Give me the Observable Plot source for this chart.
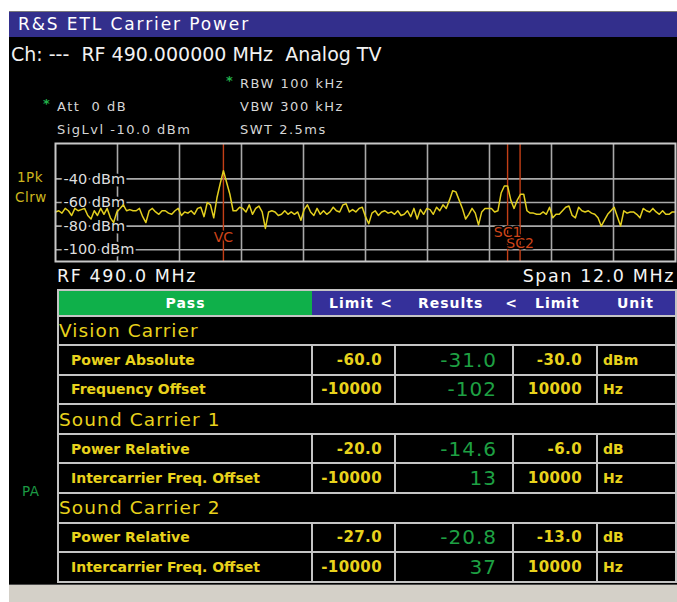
<!DOCTYPE html>
<html><head><meta charset="utf-8">
<script src="https://cdn.jsdelivr.net/npm/d3@7"></script>
<script src="https://cdn.jsdelivr.net/npm/@observablehq/plot@0.6"></script>
<style>
html,body{margin:0;padding:0;background:#fff;width:677px;height:602px;overflow:hidden;font-family:"DejaVu Sans",sans-serif;}
.abs{position:absolute;white-space:pre;}
#screen{position:absolute;left:9px;top:12px;width:668px;height:572px;background:#000;}
#topline{position:absolute;left:9px;top:11px;width:668px;height:1px;background:#7a7a7a;}
#titlebar{position:absolute;left:9px;top:12px;width:668px;height:25px;background:#332f8c;color:#fff;font-size:17px;line-height:25px;letter-spacing:1.9px;}
#titlebar span{position:absolute;left:9px;top:0;}
#bottombar{position:absolute;left:9px;top:584px;width:668px;height:18px;background:#d4d0c8;border-top:1px solid #4a4a4a;}
.info{color:#d6d6d6;font-size:13px;line-height:16px;letter-spacing:1.5px;}
.star{color:#22b04a;font-size:13px;font-weight:bold;line-height:16px;}
.side{font-size:13.5px;line-height:16px;letter-spacing:0.5px;}
#spec{position:absolute;left:0;top:135px;}
#tbl{position:absolute;left:57px;top:289px;border-collapse:collapse;table-layout:fixed;width:618px;}
#tbl td{border:2px solid #c4c4c4;padding:0;vertical-align:middle;white-space:nowrap;overflow:visible;}
#tbl tr.hdr td{height:23.5px;color:#fff;font-weight:bold;font-size:14px;letter-spacing:1px;border-left:none;border-right:none;}
#tbl tr.hdr td.first{border-left:2px solid #c4c4c4;}
#tbl tr.hdr td.last{border-right:2px solid #c4c4c4;}
#tbl tr.sec td{height:27.6px;color:#e8d21c;font-size:18.5px;letter-spacing:1.1px;}
#tbl tr.row td{height:27.6px;}
td.lab{color:#e8d21c;font-weight:bold;font-size:14px;padding-left:12px !important;}
td.lim{color:#e8d21c;font-weight:bold;font-size:15px;letter-spacing:0.4px;text-align:right;padding-right:12px !important;}
td.lim2{color:#e8d21c;font-weight:bold;font-size:15px;letter-spacing:0.4px;text-align:right;padding-right:14px !important;}
td.res{color:#1ea043;font-size:20px;letter-spacing:1px;text-align:right;padding-right:15px !important;}
td.unit{color:#e8d21c;font-weight:bold;font-size:14px;padding-left:5px !important;}
</style>
</head><body>
<div id="screen"></div>
<div id="topline"></div>
<div id="titlebar"><span id="title"></span></div>
<div id="spec"></div>
<table id="tbl"></table>
<div id="bottombar"></div>
<script>
// ---------- data ----------
const titleText = "R&S ETL Carrier Power";
const channelText = "Ch: ---  RF 490.000000 MHz  Analog TV";
const settingsRight = ["RBW 100 kHz", "VBW 300 kHz", "SWT 2.5ms"];
const settingsLeft = ["Att  0 dB", "SigLvl -10.0 dBm"];
const traceInfo = ["1Pk", "Clrw"];
const centerText = "RF 490.0 MHz";
const spanText = "Span 12.0 MHz";
const sideStatus = "PA";

// sweep: 484.0 .. 496.0 MHz (centre 490, span 12), equally spaced sweep points
const startMHz = 484.0;
const stopMHz = 496.0;
const sweepLevels = [
  -68, -67, -69, -65, -67, -71, -65, -67, -66, -65,
  -71, -74, -67, -71, -65, -70, -65, -73, -77, -68,
  -65, -62, -67, -66, -67, -67, -65, -72, -77, -67,
  -65, -68, -70, -67, -67, -69, -70, -67, -65, -71,
  -68, -69, -67, -70, -65, -64, -72, -60, -62, -73,
  -56, -44, -33, -43, -53, -67, -67, -64, -65, -68,
  -62, -70, -65, -63, -68, -82, -68, -67, -68, -71,
  -70, -67, -70, -68, -70, -68, -75, -66, -62, -68,
  -71, -65, -70, -67, -70, -68, -64, -67, -68, -62,
  -61, -68, -66, -68, -65, -64, -72, -78,
  -69, -67, -71, -68, -67, -69, -68, -70, -67, -71,
  -70, -67, -72, -65, -74, -66, -70, -65, -66, -70,
  -64, -67, -62, -65, -58, -50, -51, -58, -65, -74,
  -70, -65, -69, -79, -68, -65, -65, -65, -68, -67,
  -52, -46, -46, -58, -65, -58, -53, -53,
  -67, -69, -69, -70, -70, -68, -70, -64, -73, -70,
  -70, -67, -64, -63, -71, -73, -64, -67, -68, -67,
  -69, -70, -73, -80, -75, -70, -67, -64, -72, -80,
  -67, -69, -68, -68, -70, -73, -65, -67, -68, -65,
  -68, -70, -67, -70, -70, -68, -68
];
const gridFreqs = [485.2, 486.4, 487.6, 488.8, 490.0, 491.2, 492.4, 493.6, 494.8];
const levelTicks = [-40, -60, -80, -100];
const markerNames = ["VC", "SC1", "SC2"];
const markerFreqs = [487.25, 492.75, 492.992];

// table
const headerCells = ["Pass", "Limit", "<", "Results", "<", "Limit", "Unit"];
const sections = ["Vision Carrier", "Sound Carrier 1", "Sound Carrier 2"];
const rowSection = [0, 0, 1, 1, 2, 2];
const rowLabels = ["Power Absolute", "Frequency Offset", "Power Relative", "Intercarrier Freq. Offset", "Power Relative", "Intercarrier Freq. Offset"];
const lowerLimits = ["-60.0", "-10000", "-20.0", "-10000", "-27.0", "-10000"];
const results = ["-31.0", "-102", "-14.6", "13", "-20.8", "37"];
const upperLimits = ["-30.0", "10000", "-6.0", "10000", "-13.0", "10000"];
const units = ["dBm", "Hz", "dB", "Hz", "dB", "Hz"];

// ---------- text layer ----------
function addText(txt, left, centerY, cls, extra) {
  const d = document.createElement("div");
  d.className = "abs " + cls;
  d.textContent = txt;
  d.style.left = left + "px";
  d.style.top = (centerY - 8) + "px";
  if (extra) Object.assign(d.style, extra);
  document.body.appendChild(d);
  return d;
}
document.getElementById("title").textContent = titleText;
addText(channelText, 11, 54, "", {color: "#f2f2f2", fontSize: "19px", lineHeight: "16px"});
settingsRight.forEach((t, i) => addText(t, 240, 84 + i * 23, "info"));
settingsLeft.forEach((t, i) => addText(t, 57, 107 + i * 23, "info"));
addText("*", 226, 81, "star");
addText("*", 43, 104, "star");
traceInfo.forEach((t, i) => addText(t, i === 0 ? 17 : 15, 177 + i * 20, "side", {color: "#cdb61e"}));
addText(sideStatus, 22, 491, "side", {color: "#1c9a44"});
addText(centerText, 57, 276, "", {color: "#f4f4f4", fontSize: "17.5px", lineHeight: "16px", letterSpacing: "1.6px"});
const sp = addText(spanText, 0, 276, "", {color: "#f4f4f4", fontSize: "17.5px", lineHeight: "16px", letterSpacing: "1.6px"});
sp.style.left = "auto"; sp.style.right = (677 - 675) + "px";

// ---------- spectrum ----------
const n = sweepLevels.length;
const sweep = sweepLevels.map((v, i) => ({f: startMHz + i * (stopMHz - startMHz) / (n - 1), v}));
const markers = markerNames.map((name, i) => ({name, f: markerFreqs[i]}));
const mColor = "#cf4519";
const labelDy = {VC: 0, SC1: -5.5, SC2: 5.5};
const plot = Plot.plot({
  width: 677, height: 135,
  marginTop: 8, marginBottom: 9, marginLeft: 55, marginRight: 2,
  x: {domain: [startMHz, stopMHz], axis: null},
  y: {domain: [-110, -10], axis: null},
  style: {background: "transparent", fontFamily: "DejaVu Sans", overflow: "visible"},
  marks: [
    Plot.ruleX(gridFreqs, {x: d => d, stroke: "#a9a9a9", strokeWidth: 1.6}),
    Plot.ruleY(levelTicks, {y: d => d, stroke: "#a9a9a9", strokeWidth: 1.6}),
    Plot.text(levelTicks, {y: d => d, frameAnchor: "left", dx: 8, text: d => `${d} dBm`, textAnchor: "start",
      fill: "#dedede", stroke: "#000", strokeWidth: 5, paintOrder: "stroke", fontSize: 14.5, letterSpacing: 0.3}),
    Plot.ruleX(markers, {x: "f", stroke: "#c43f16", strokeWidth: 1.4}),
    Plot.line(sweep, {x: "f", y: "v", stroke: "#e3cf1f", strokeWidth: 1.5, curve: "linear"}),
    ...["SC2", "VC", "SC1"].map(nm => Plot.text(markers.filter(m => m.name === nm), {
      x: "f", y: () => -90, dy: labelDy[nm], text: "name", fill: mColor, stroke: "#000", strokeWidth: 3,
      paintOrder: "stroke", fontSize: 14})),
    Plot.frame({stroke: "#c8c8c8", strokeWidth: 2})
  ]
});
document.getElementById("spec").appendChild(plot);

// ---------- results table ----------
const tbl = document.getElementById("tbl");
const cg = document.createElement("colgroup");
[254, 83, 118, 84, 79].forEach(w => { const c = document.createElement("col"); c.style.width = w + "px"; cg.appendChild(c); });
tbl.appendChild(cg);
function flexCell(parts, pl, pr) {
  return `<div style="display:flex;justify-content:space-between;padding-left:${pl}px;padding-right:${pr}px">${parts.map((p, i) => `<span${i === parts.length - 1 && pr < 0 ? ` style="margin-right:${pr}px"` : ""}>${p}</span>`).join("")}</div>`;
}
let html = `<tr class="hdr">
<td class="first" style="background:#0fb04a;text-align:center">${headerCells[0]}</td>
<td style="background:#35309a">${flexCell([headerCells[1], headerCells[2]], 17, 2)}</td>
<td style="background:#35309a">${flexCell([headerCells[3], headerCells[4]], 23, -5)}</td>
<td style="background:#35309a;padding-left:22px">${headerCells[5]}</td>
<td class="last" style="background:#35309a;padding-left:20px">${headerCells[6]}</td></tr>`;
sections.forEach((s, si) => {
  html += `<tr class="sec"><td colspan="5">${s}</td></tr>`;
  rowSection.forEach((rs, i) => {
    if (rs !== si) return;
    html += `<tr class="row"><td class="lab">${rowLabels[i]}</td><td class="lim">${lowerLimits[i]}</td><td class="res">${results[i]}</td><td class="lim2">${upperLimits[i]}</td><td class="unit">${units[i]}</td></tr>`;
  });
});
tbl.innerHTML += html;
</script>
</body></html>
